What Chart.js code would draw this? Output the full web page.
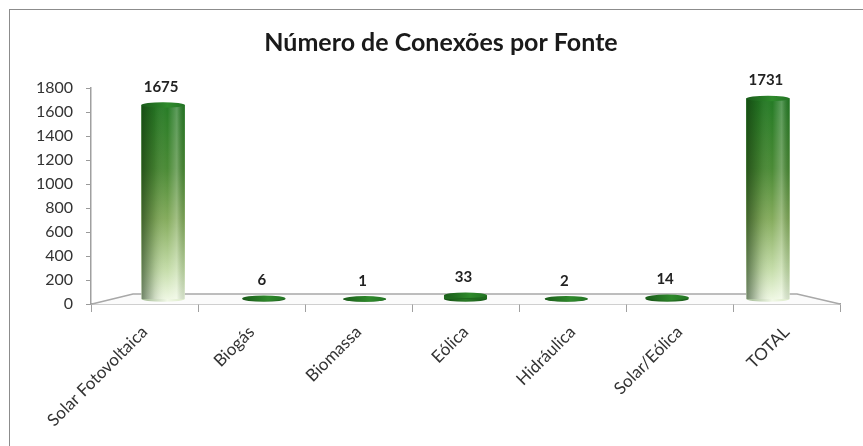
<!DOCTYPE html>
<html>
<head>
<meta charset="utf-8">
<script src="https://cdn.jsdelivr.net/npm/chart.js@4.4.1/dist/chart.umd.min.js"></script>
<style>
  html, body { margin:0; padding:0; background:#fff; }
  #wrap { position:relative; width:863px; height:446px; overflow:hidden; }
  #frame { position:absolute; left:9px; top:9px; width:900px; height:500px;
           border-left:1px solid #8c8c8c; border-top:1px solid #8c8c8c; }
  #c { position:absolute; left:0; top:0; }
</style>
</head>
<body>
<div id="wrap">
  <div id="frame"></div>
  <canvas id="c" width="863" height="446"></canvas>
</div>
<script>
// Data
const categories = ['Solar Fotovoltaica', 'Biogás', 'Biomassa', 'Eólica', 'Hidráulica', 'Solar/Eólica', 'TOTAL'];
const connections = [1675, 6, 1, 33, 2, 14, 1731];
const yTickMin = 0, yTickMax = 1800, yTickStep = 200;
const title = 'Número de Conexões por Fonte';

const FONT = 'Lato, "Open Sans", sans-serif';

// 3D-ish floor under the cylinders
const floor3d = {
  id: 'floor3d',
  beforeDatasetsDraw(chart) {
    const { ctx, chartArea: a, scales } = chart;
    const front = scales.y.getPixelForValue(0);
    const back = front - 10;
    ctx.save();
    ctx.beginPath();
    ctx.moveTo(a.left + 1, front);
    ctx.lineTo(a.left + 42, back);
    ctx.lineTo(a.right - 43, back);
    ctx.lineTo(a.right, front);
    ctx.fillStyle = '#fbfbfb';
    ctx.fill();
    ctx.strokeStyle = '#a8a8a8';
    ctx.lineWidth = 1.5;
    ctx.stroke();
    ctx.restore();
  }
};

// cylinder shading, caps and value labels
const cylinders = {
  id: 'cylinders',
  afterDatasetsDraw(chart) {
    const ctx = chart.ctx;
    const meta = chart.getDatasetMeta(0);
    meta.data.forEach((bar, i) => {
      const { x, y, base, width } = bar.getProps(['x', 'y', 'base', 'width'], true);
      const l = x - width / 2, r = x + width / 2, rx = width / 2, ry = 2.8;
      ctx.save();
      // side shading
      const h = ctx.createLinearGradient(l, 0, r, 0);
      h.addColorStop(0, 'rgba(10,40,5,0.55)');
      h.addColorStop(0.3, 'rgba(10,40,5,0.15)');
      h.addColorStop(0.6, 'rgba(255,255,255,0)');
      h.addColorStop(0.82, 'rgba(255,255,255,0.25)');
      h.addColorStop(1, 'rgba(10,40,5,0.12)');
      ctx.fillStyle = h;
      ctx.fillRect(l, y, width, base - y);
      const tall = base - y > 20;
      // bottom cap
      ctx.beginPath();
      ctx.ellipse(x, base, rx, ry, 0, 0, Math.PI);
      const hb = ctx.createLinearGradient(l, 0, r, 0);
      if (tall) {
        hb.addColorStop(0, '#9fb890');
        hb.addColorStop(0.6, '#f1f8e6');
        hb.addColorStop(1, '#dbeac8');
      } else {
        hb.addColorStop(0, '#154f15');
        hb.addColorStop(0.5, '#2a7a26');
        hb.addColorStop(1, '#1a5a1a');
      }
      ctx.fillStyle = hb;
      ctx.fill();
      if (!tall) {
        ctx.fillStyle = '#1f6a1e';
        ctx.fillRect(l, y, width, base - y);
      }
      // top cap
      ctx.beginPath();
      ctx.ellipse(x, y, rx, ry, 0, 0, Math.PI * 2);
      const ht = ctx.createLinearGradient(l, 0, r, 0);
      ht.addColorStop(0, '#1a5c1a');
      ht.addColorStop(0.6, '#2f8a2c');
      ht.addColorStop(1, '#237424');
      ctx.fillStyle = ht;
      ctx.fill();
      // value label
      ctx.fillStyle = '#222';
      ctx.font = 'bold 15px ' + FONT;
      ctx.textAlign = 'center';
      ctx.textBaseline = 'middle';
      ctx.fillText(String(connections[i]), x - 2, y - 18);
      ctx.restore();
    });
  }
};

const ctx = document.getElementById('c').getContext('2d');
new Chart(ctx, {
  type: 'bar',
  data: {
    labels: categories,
    datasets: [{
      label: 'Conexões',
      data: connections.map((v, i) => ({ x: i, y: v })),
      xAxisID: 'xb',
      yAxisID: 'yb',
      barThickness: 43,
      borderWidth: 0,
      backgroundColor(c) {
        const chart = c.chart;
        if (!chart.chartArea) return '#5a9a3a';
        const yb = chart.scales.yb;
        const g = chart.ctx.createLinearGradient(0, yb.getPixelForValue(Math.max(...connections)), 0, yb.getPixelForValue(0));
        g.addColorStop(0, '#237a24');
        g.addColorStop(0.35, '#4a8a35');
        g.addColorStop(0.6, '#84ab5c');
        g.addColorStop(0.85, '#c4dca8');
        g.addColorStop(1, '#eef7e2');
        return g;
      }
    }]
  },
  options: {
    responsive: false,
    animation: false,
    layout: { padding: { left: 19, right: 0, top: 0, bottom: 0 } },
    plugins: {
      legend: { display: false },
      tooltip: { enabled: false },
      title: {
        display: true,
        text: title,
        color: '#1a1a1a',
        font: { family: FONT, size: 25, weight: 'bold', lineHeight: 1.2 },
        padding: { top: 28, bottom: 30 }
      }
    },
    scales: {
      x: {
        type: 'category',
        offset: true,
        grid: { display: true, offset: true, drawOnChartArea: false, tickLength: 8, color: '#a0a0a0' },
        border: { display: true, color: '#a0a0a0', width: 1.5 },
        ticks: { minRotation: 45, maxRotation: 45, autoSkip: false, color: '#333', padding: 10,
                 font: { family: FONT, size: 17 } },
        afterFit(s) { s.height = 142; }
      },
      y: {
        type: 'linear',
        min: yTickMin, max: yTickMax,
        grid: { display: true, drawOnChartArea: false, tickLength: 5, color: '#9a9a9a' },
        border: { display: true, color: '#a0a0a0', width: 1.5 },
        ticks: { stepSize: yTickStep, color: '#333', padding: 13, font: { family: FONT, size: 16 },
                 callback: v => String(v) },
        afterFit(s) { s.width = 72; }
      },
      xb: { type: 'linear', display: false, offset: false, min: -0.715, max: categories.length - 1 + 0.715 },
      // hidden value axis for the cylinders; kept on the right only to reserve the right margin
      yb: {
        type: 'linear', position: 'right', display: true, min: -43, max: 1822,
        grid: { display: false }, border: { display: false }, ticks: { display: false },
        afterFit(s) { s.width = 23; }
      }
    }
  },
  plugins: [floor3d, cylinders]
});
</script>
</body>
</html>
